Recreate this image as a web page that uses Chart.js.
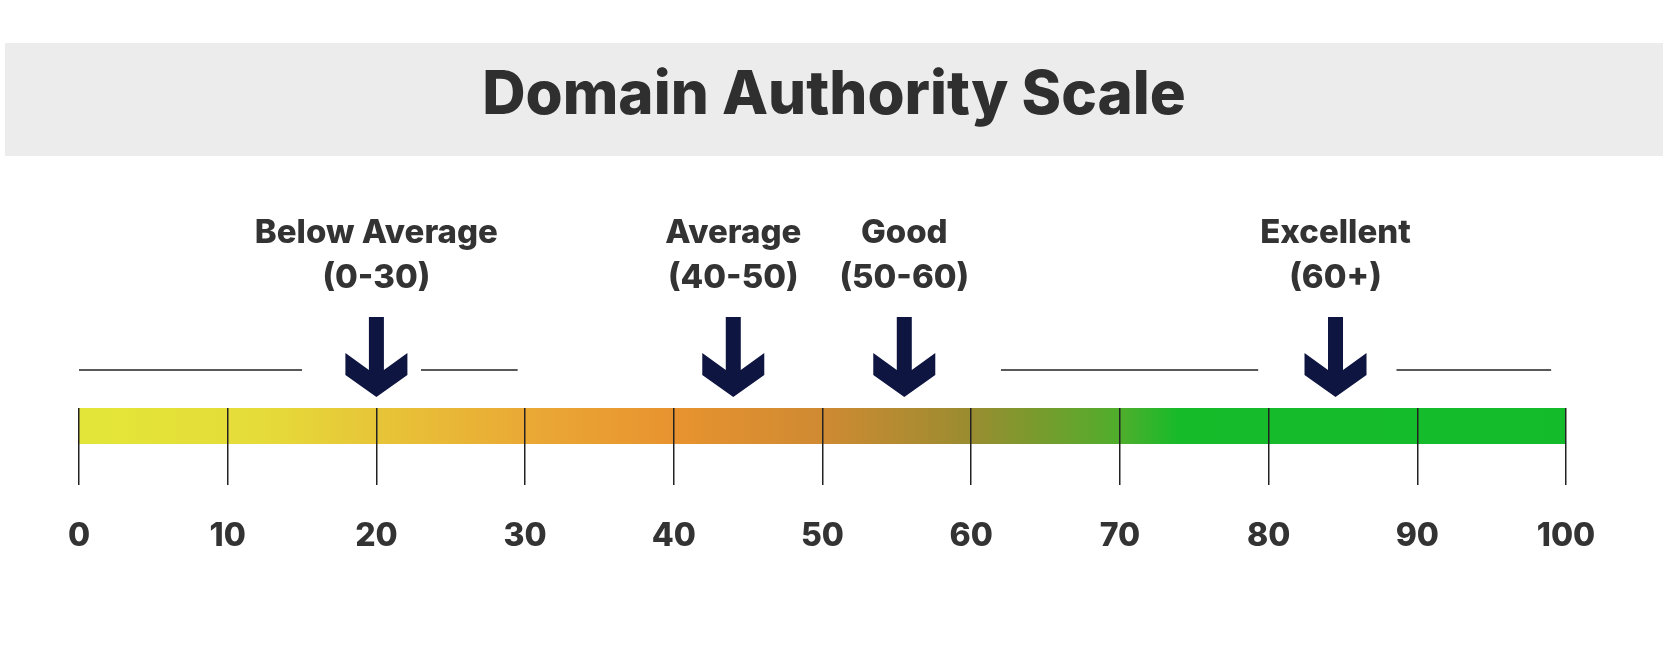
<!DOCTYPE html>
<html><head><meta charset="utf-8">
<script src="https://cdn.jsdelivr.net/npm/chart.js@4"></script>
<style>html,body{margin:0;padding:0;background:#fff}#c{display:block}</style>
</head><body>
<div style="width:1668px;height:652px"><canvas id="c"></canvas></div>
<script>
const titleText = "Domain Authority Scale";
const tickValues = [0,10,20,30,40,50,60,70,80,90,100];
const categoryNames = [["Below Average","(0-30)"],["Average","(40-50)"],["Good","(50-60)"],["Excellent","(60+)"]];
const arrowValues = [20, 44, 55.5, 84.5];
const lineSegments = [[0,15],[23,29.5],[62,79.3],[88.6,99]];
const gradientStops = [[0,"#e3e638"],[0.12,"#e5dc3a"],[0.3,"#eaa935"],[0.4,"#e8932f"],[0.5,"#cf8a32"],[0.6,"#9a8c30"],[0.7,"#4fae2c"],[0.74,"#16bb2a"],[1,"#13bb2a"]];

const FONT = "Inter, 'Open Sans', sans-serif";
const deco = {
  id:'deco',
  beforeDraw(chart){
    const ctx=chart.ctx, a=chart.chartArea, W=chart.width;
    ctx.save();
    ctx.fillStyle="#ececec"; ctx.fillRect(5,43,W-10,113);
    ctx.fillStyle="#2f2f2f"; ctx.font="800 60px "+FONT;
    ctx.textAlign="center"; ctx.textBaseline="middle";
    ctx.fillText(titleText, W/2, 96);
    const g=ctx.createLinearGradient(a.left,0,a.right,0);
    gradientStops.forEach(s=>g.addColorStop(s[0],s[1]));
    ctx.fillStyle=g; ctx.fillRect(a.left,a.top,a.right-a.left,36);
    ctx.restore();
  },
  afterDraw(chart){
    const ctx=chart.ctx, x=chart.scales.x;
    ctx.save();
    ctx.strokeStyle="#222"; ctx.lineWidth=1.5;
    lineSegments.forEach(s=>{ctx.beginPath();ctx.moveTo(x.getPixelForValue(s[0]),370);ctx.lineTo(x.getPixelForValue(s[1]),370);ctx.stroke();});
    arrowValues.forEach((v,i)=>{
      const cx=x.getPixelForValue(v);
      const p=[[-7.5,317],[7.5,317],[7.5,370],[31,353],[31,375],[0,397],[-31,375],[-31,353],[-7.5,370]];
      ctx.fillStyle="#0e1540"; ctx.beginPath();
      p.forEach((q,j)=>j?ctx.lineTo(cx+q[0],q[1]):ctx.moveTo(cx+q[0],q[1]));
      ctx.closePath(); ctx.fill();
      ctx.fillStyle="#333"; ctx.font="800 33px "+FONT; ctx.textAlign="center"; ctx.textBaseline="middle";
      ctx.fillText(categoryNames[i][0],cx,233);
      ctx.fillText(categoryNames[i][1],cx,278);
    });
    ctx.restore();
  }
};
new Chart(document.getElementById('c'),{
  type:'scatter',
  data:{datasets:[{data:arrowValues.map(v=>({x:v,y:0})),pointRadius:0}]},
  options:{
    responsive:true,maintainAspectRatio:false,animation:false,
    layout:{padding:{left:79,right:102,top:408,bottom:90}},
    plugins:{legend:{display:false},tooltip:{enabled:false}},
    scales:{
      x:{type:'linear',min:0,max:100,
        afterBuildTicks(s){s.ticks=tickValues.map(v=>({value:v}));},
        grid:{color:"#222",lineWidth:1.5,drawTicks:false},
        border:{display:false},
        ticks:{padding:32,color:"#333",font:{family:FONT,size:32,weight:'800'},maxRotation:0,autoSkip:false}},
      y:{display:false,min:-1,max:1}
    }
  },
  plugins:[deco]
});
</script>
</body></html>
